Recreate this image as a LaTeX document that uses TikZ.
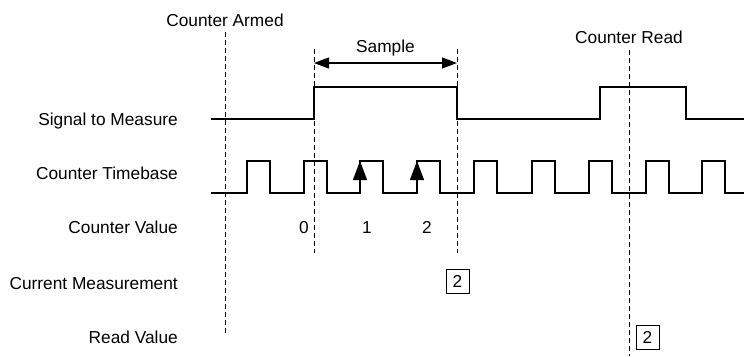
\documentclass[tikz,border=0pt]{standalone}
\usepackage{fontspec}
\setmainfont{Liberation Sans}
\usetikzlibrary{arrows.meta}
\begin{document}
\begin{tikzpicture}[x=1pt,y=-1pt,
  lbl/.style={anchor=base east,inner sep=0pt,font=\fontsize{17.3}{20}\selectfont},
  txt/.style={anchor=base,inner sep=0pt,font=\fontsize{17.3}{20}\selectfont},
  sig/.style={line width=1.1pt,line join=miter},
  guide/.style={line width=1pt,dash pattern=on 5pt off 3pt},
  valbox/.style={draw,line width=1pt,minimum width=23pt,minimum height=24pt,inner sep=0pt,font=\fontsize{17.3}{20}\selectfont},
  edgearrow/.style={-{Triangle[length=19pt,width=14pt]},line width=1.1pt},
  span/.style={{Triangle[length=15pt,width=11pt]}-{Triangle[length=15pt,width=11pt]},line width=1.1pt}
]
\useasboundingbox (0,0) rectangle (744,356);

% row labels
\node[lbl] (lsig) at (178,125) {Signal to Measure};
\node[lbl] (ltb)  at (178,179) {Counter Timebase};
\node[lbl] (lcv)  at (178,233) {Counter Value};
\node[lbl] (lcm)  at (178,289) {Current Measurement};
\node[lbl] (lrv)  at (178,343) {Read Value};

% top labels
\node[txt] (armed) at (225,27) {Counter Armed};
\node[txt] (read)  at (629,43) {Counter Read};
\node[txt] (sample) at (385.5,52) {Sample};

% dashed guides
\coordinate (a1) at (225,32);  \coordinate (a2) at (225,335);
\coordinate (s1) at (314,49);  \coordinate (s2) at (314,253);
\coordinate (e1) at (457,49);  \coordinate (e2) at (457,253);
\coordinate (r1) at (629,50);  \coordinate (r2) at (629,356);
\draw[guide] (a1) -- (a2);
\draw[guide] (s1) -- (s2);
\draw[guide] (e1) -- (e2);
\draw[guide] (r1) -- (r2);

% sample span arrow
\coordinate (sa) at (314,63); \coordinate (sb) at (457,63);
\draw[span] (sa) -- (sb);

% signal to measure
\draw[sig] (211,119) -- (314,119) -- (314,87) -- (457,87) -- (457,119)
  -- (600,119) -- (600,87) -- (686,87) -- (686,119) -- (744,119);

% counter timebase
\draw[sig] (211,193)
  \foreach \r in {247,304,360,417,474,532,589,646,702} {
    -- (\r,193) -- (\r,161) -- (\r+23,161) -- (\r+23,193) }
  -- (744,193);

% counted edges
\coordinate (k1a) at (360,193); \coordinate (k1b) at (360,161);
\coordinate (k2a) at (417,193); \coordinate (k2b) at (417,161);
\draw[edgearrow] (k1a) -- (k1b);
\draw[edgearrow] (k2a) -- (k2b);

% counter values
\node[txt] (v0) at (304,233) {0};
\node[txt] (v1) at (367,233) {1};
\node[txt] (v2) at (427,233) {2};

% boxes
\node[valbox] (cm) at (457.5,281) {2};
\node[valbox] (rv) at (647.5,337.5) {2};
\end{tikzpicture}
\end{document}
